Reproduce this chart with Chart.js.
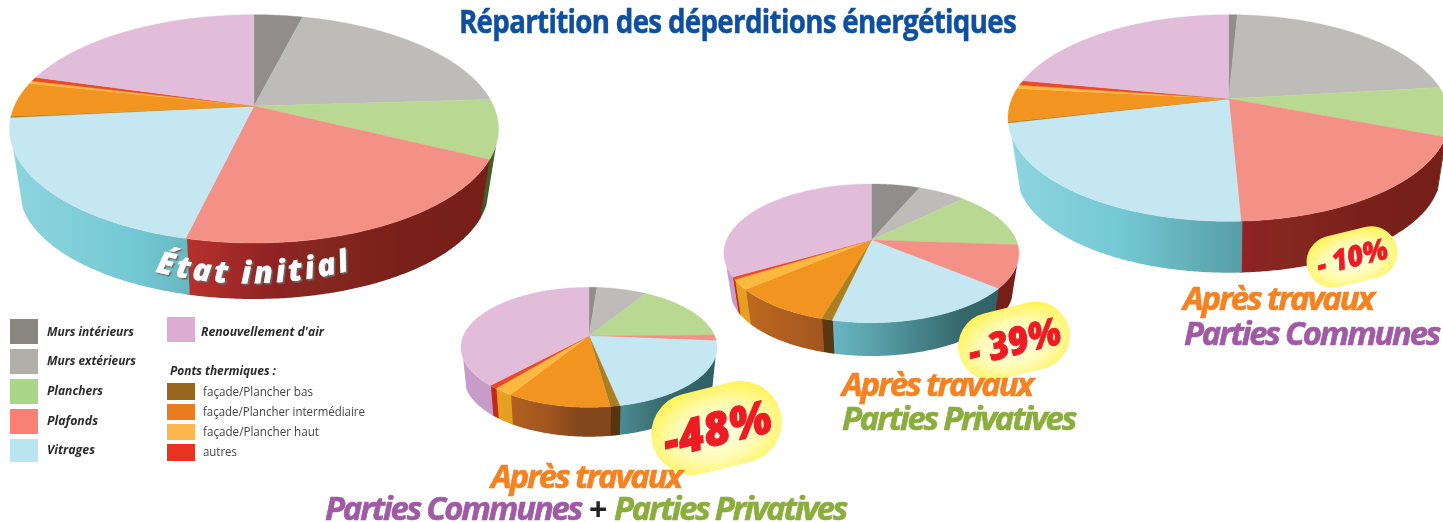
<!DOCTYPE html>
<html lang="fr">
<head>
<meta charset="utf-8">
<title>Répartition des déperditions énergétiques</title>
<script src="https://cdn.jsdelivr.net/npm/chart.js@4"></script>
<style>
html,body{margin:0;padding:0;background:#fff;width:1443px;height:522px;overflow:hidden}
#stage{position:relative;width:1443px;height:522px;overflow:hidden}
.pie{position:absolute}
#overlay{position:absolute;left:0;top:0}
</style>
</head>
<body>
<div id="stage"></div>
<script>
const categories = ["Murs intérieurs","Murs extérieurs","Planchers","Plafonds","Vitrages","façade/Plancher bas","façade/Plancher intermédiaire","façade/Plancher haut","autres","Renouvellement d'air"];
const etatInitial = [3.9,20.2,8.3,21.4,19.7,0.2,4.9,0.4,0.6,20.6];
const partiesCommunes = [0.75,22.4,7.7,18.4,22,0.17,5.2,0.6,0.75,22];
const partiesPrivatives = [6.4,6.3,13.4,9.9,17.5,1,9.2,2.3,0.6,33.3];
const communesEtPrivatives = [1.2,7.6,15.9,1.6,20.5,1,11,2.1,0.9,38.2];

const topColors = ["#918d8a","#bebcb9","#b9d993","#f49187","#c5e7f1","#a97f22","#f19420","#fdb93f","#ea4a27","#e1bdd9"];
const swatchColors = ["#898580","#b2aeaa","#abd587","#f98072","#bae4f0","#9a661f","#e97b20","#feb64f","#e83323","#dcacd1"];
const sideStops = [
  [[0,"#6b6866"],[1,"#6b6866"]],
  [[0,"#8d8a87"],[1,"#8d8a87"]],
  [[0,"#3e5f27"],[1,"#3e5f27"]],
  [[0,"#b3302c"],[.38,"#b3302c"],[.55,"#8c2222"],[.62,"#85281f"],[.8,"#7a201a"],[1,"#751f18"]],
  [[0,"#8ed5df"],[.25,"#74c9d4"],[.5,"#5aa3ab"],[.6,"#4e8f97"],[.8,"#36696c"],[1,"#2f5f62"]],
  [[0,"#7a5218"],[.4,"#55340f"],[1,"#55340f"]],
  [[0,"#c66e20"],[.35,"#a0551f"],[.45,"#84471b"],[1,"#84471b"]],
  [[0,"#e5a021"],[1,"#e5a021"]],
  [[0,"#c4281c"],[1,"#c4281c"]],
  [[0,"#c69dc9"],[1,"#c69dc9"]]
];

const pies = [
  {values:etatInitial,          box:[0,8,510,296],   ax:254,   ay:106, top:14.7, bottom:243,   rx:244.5, sideBottom:299,   s:.96},
  {values:partiesCommunes,      box:[1000,8,443,270],ax:1228.7,ay:98.7,top:14.7, bottom:221.3, rx:220.7, sideBottom:272.7, s:.96},
  {values:partiesPrivatives,    box:[718,178,308,182],ax:871.4,ay:240, top:184,  bottom:322.7, rx:147.5, sideBottom:356,   s:.96},
  {values:communesEtPrivatives, box:[456,282,266,158],ax:589,  ay:336, top:287.3,bottom:407.3, rx:128,   sideBottom:436.7, s:.975}
];

function projector(g){
  const up=g.ay-g.top, dn=g.bottom-g.ay;
  const p=(dn-up)/(dn+up), B=up*(1+p), C=g.rx*Math.sqrt(1-p*p);
  const d=g.sideBottom-(g.ay+(g.bottom-g.ay)*g.s);
  const topPt=a=>{const th=a+Math.PI/2,v=-Math.cos(th),u=Math.sin(th),w=1/(1-p*v);return [g.ax+C*u*w,g.ay+B*v*w];};
  const botPt=a=>{const q=topPt(a);return [g.ax+(q[0]-g.ax)*g.s,g.ay+(q[1]-g.ay)*g.s+d];};
  return {topPt,botPt};
}
const rad=Math.PI/180;
function sweep(a0,a1){const n=Math.max(2,Math.ceil((a1-a0)/(0.5*rad)));const r=[];for(let i=0;i<=n;i++)r.push(a0+(a1-a0)*i/n);return r;}

function tiltedPie(g){
  const P=projector(g);
  return {
    id:"tiltedPie",
    beforeDatasetsDraw(chart){
      const ctx=chart.ctx, arcs=chart.getDatasetMeta(0).data;
      ctx.save();
      ctx.translate(-g.box[0],-g.box[1]);
      const fL=-Math.PI/2+109*rad, fH=-Math.PI/2+249*rad;
      arcs.forEach((el,i)=>{
        const a0=Math.max(el.startAngle-0.3*rad,fL), a1=Math.min(el.endAngle+0.3*rad,fH);
        if(a1<=a0) return;
        const gr=ctx.createLinearGradient(g.ax-g.rx,0,g.ax+g.rx,0);
        sideStops[i].forEach(s=>gr.addColorStop(s[0],s[1]));
        ctx.fillStyle=gr;
        ctx.beginPath();
        const pts=sweep(a0,a1);
        pts.forEach((a,k)=>{const q=P.topPt(a);k?ctx.lineTo(q[0],q[1]):ctx.moveTo(q[0],q[1]);});
        pts.slice().reverse().forEach(a=>{const q=P.botPt(a);ctx.lineTo(q[0],q[1]);});
        ctx.closePath();ctx.fill();
      });
      arcs.forEach((el,i)=>{
        ctx.fillStyle=topColors[i];ctx.strokeStyle=topColors[i];ctx.lineWidth=.4;
        ctx.beginPath();ctx.moveTo(g.ax,g.ay);
        sweep(el.startAngle,el.endAngle).forEach(a=>{const q=P.topPt(a);ctx.lineTo(q[0],q[1]);});
        ctx.closePath();ctx.fill();ctx.stroke();
      });
      ctx.restore();
      return false;
    }
  };
}

const stage=document.getElementById("stage");
pies.forEach(g=>{
  const w=document.createElement("div");w.className="pie";
  w.style.cssText=`left:${g.box[0]}px;top:${g.box[1]}px;width:${g.box[2]}px;height:${g.box[3]}px`;
  const c=document.createElement("canvas");c.width=g.box[2];c.height=g.box[3];w.appendChild(c);stage.appendChild(w);
  new Chart(c,{type:"pie",data:{labels:categories,datasets:[{data:g.values,backgroundColor:topColors,borderWidth:0}]},
    options:{responsive:false,animation:false,events:[],plugins:{legend:{display:false},tooltip:{enabled:false}}},
    plugins:[tiltedPie(g)]});
});

/* ---- overlay text, swatches, badges ---- */
const NS="http://www.w3.org/2000/svg";
const svg=document.createElementNS(NS,"svg");
svg.setAttribute("id","overlay");svg.setAttribute("width",1443);svg.setAttribute("height",522);
stage.appendChild(svg);
function el(name,attrs,parent,text){const e=document.createElementNS(NS,name);for(const k in attrs)e.setAttribute(k,attrs[k]);if(text!==undefined)e.textContent=text;(parent||svg).appendChild(e);return e;}
const FONT="'Open Sans',sans-serif";
function label(s,x,y,len,size,fill,weight,style,extra){
  return el("text",Object.assign({x,y,textLength:len,lengthAdjust:"spacingAndGlyphs","font-family":FONT,"font-size":size,fill,"font-weight":weight,"font-style":style||"normal"},extra||{}),svg,s);
}
const defs=el("defs",{});
const rg=el("radialGradient",{id:"badge",cx:"50%",cy:"55%",r:"62%"},defs);
el("stop",{offset:"0%","stop-color":"#fffff0"},rg);
el("stop",{offset:"55%","stop-color":"#fffbb0"},rg);
el("stop",{offset:"100%","stop-color":"#fff24a"},rg);
el("path",{id:"arcInit",d:"M155,272 Q250,296 352,270",fill:"none"},defs);
const fl=el("filter",{id:"emboss",x:"-5%",y:"-20%",width:"110%",height:"140%"},defs);
el("feDropShadow",{dx:1.5,dy:1.5,stdDeviation:.2,"flood-color":"#6e6e6e","flood-opacity":1},fl);

label("Répartition des déperditions énergétiques",459,33,557,32,"#0e4f9f",700,"normal",{"letter-spacing":"-0.8px",stroke:"#0e4f9f","stroke-width":.5});

const swatchRects=[[10,319,28,25],[10,349,28,25],[10,379,28,25],[10,409,28,25],[10,439,28,23],[167,383,28,17],[167,404,28,16],[167,424,28,16],[167,444,28,17],[167,317,28,25]];
const labelPos=[[47,336,87],[47,365,89],[47,395,56],[47,425,51],[47,454,48],[203,396,110],[203,416,162],[203,436,116],[203,456,34],[201,336,123]];
categories.forEach((c,i)=>{
  const r=swatchRects[i],t=labelPos[i],bold=i<5||i===9;
  el("rect",{x:r[0],y:r[1],width:r[2],height:r[3],fill:swatchColors[i]});
  label(c,t[0],t[1],t[2],12,bold?"#2b2b2b":"#444",bold?700:400,bold?"italic":"normal");
});
label("Ponts thermiques :",170,375,106,12,"#2b2b2b",700,"italic");

const badges=[
  {t:"-48%",  cx:716.5,cy:428,w:132,h:82,tx:-55,ty:17,tw:110,fs:46},
  {t:"- 39%", cx:1014, cy:341,w:113,h:68,tx:-47,ty:14,tw:94, fs:38},
  {t:"- 10%", cx:1352, cy:257,w:92, h:52,tx:-36,ty:10,tw:72, fs:29}
];
badges.forEach(b=>{
  const gp=el("g",{transform:`translate(${b.cx} ${b.cy}) rotate(-14)`});
  el("rect",{x:-b.w/2,y:-b.h/2,width:b.w,height:b.h,rx:b.h/2,ry:b.h/2,fill:"url(#badge)"},gp);
  el("text",{x:b.tx,y:b.ty,textLength:b.tw,lengthAdjust:"spacingAndGlyphs","font-family":FONT,"font-weight":800,"font-style":"italic","font-size":b.fs,fill:"#ed1c24",stroke:"#ed1c24","stroke-width":b.fs/40,"stroke-linejoin":"round"},gp,b.t);
});

const ORANGE="#f58220",PURPLE="#a05aa5",OLIVE="#8aad3c";
const heads=[
  ["Après travaux",491,488,190,ORANGE],
  ["Parties Communes",325,520,256,PURPLE],
  ["Parties Privatives",614,520,232,OLIVE],
  ["Après travaux",842,396,190,ORANGE],
  ["Parties Privatives",842,430,233,OLIVE],
  ["Après travaux",1183,310,190,ORANGE],
  ["Parties Communes",1184,345,255,PURPLE]
];
heads.forEach(h=>label(h[0],h[1],h[2],h[3],33,h[4],700,"italic",{"letter-spacing":"-2.2px",stroke:h[4],"stroke-width":.6}));
el("text",{x:589,y:521,"font-family":FONT,"font-weight":700,"font-size":32,fill:"#222"},svg,"+");

const ti=el("text",{"font-family":FONT,"font-weight":800,"font-style":"italic","font-size":31,fill:"#fff",filter:"url(#emboss)"});
el("textPath",{href:"#arcInit",textLength:197,lengthAdjust:"spacing"},ti,"État initial");
</script>
</body>
</html>
